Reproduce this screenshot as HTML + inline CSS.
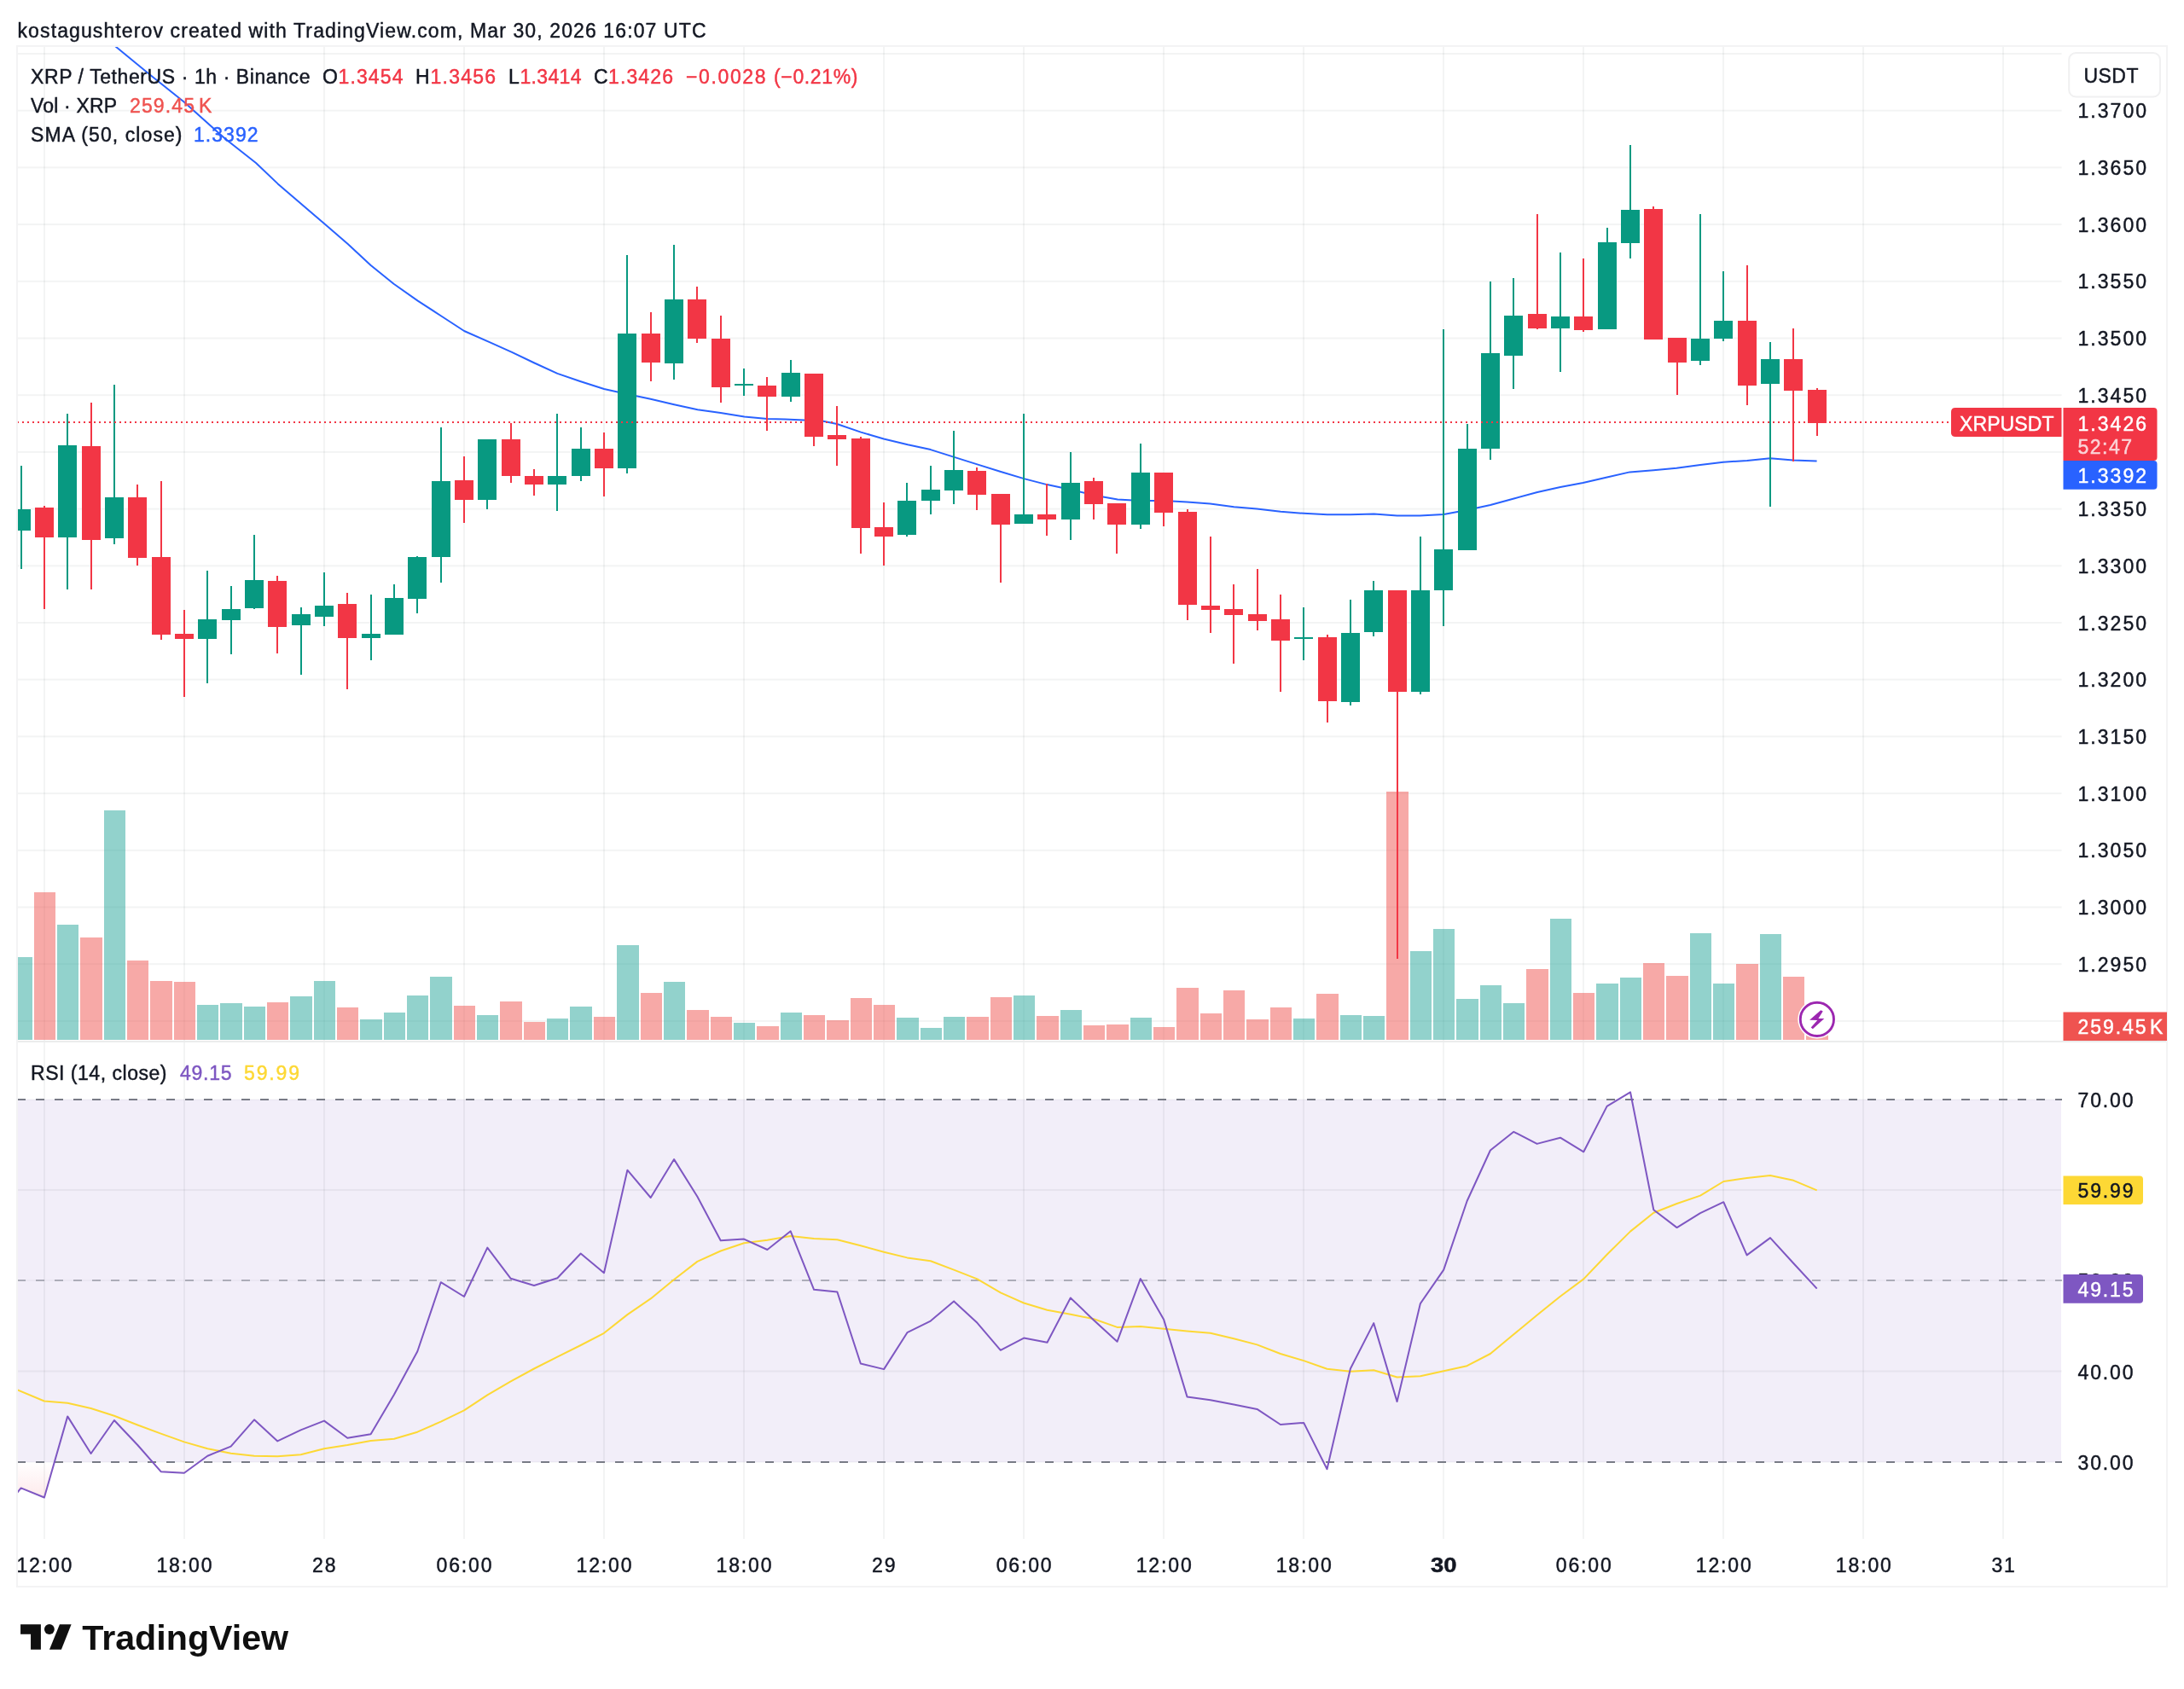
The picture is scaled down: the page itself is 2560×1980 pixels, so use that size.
<!DOCTYPE html>
<html><head><meta charset="utf-8"><title>XRP chart</title><style>html,body{margin:0;padding:0;background:#fff}body{width:2560px;height:1980px;position:relative;overflow:hidden;font-family:"Liberation Sans",sans-serif}</style></head><body><svg width="2560" height="1980" viewBox="0 0 2560 1980" style="position:absolute;left:0;top:0;will-change:transform;font-family:'Liberation Sans',sans-serif">
<defs><clipPath id="cm"><rect x="20" y="54" width="2397" height="1166"/></clipPath><clipPath id="cr"><rect x="20" y="1222" width="2397" height="582"/></clipPath><linearGradient id="os" x1="0" y1="1714" x2="0" y2="1800" gradientUnits="userSpaceOnUse"><stop offset="0" stop-color="#f23645" stop-opacity="0"/><stop offset="1" stop-color="#f23645" stop-opacity="0.22"/></linearGradient></defs>
<rect width="2560" height="1980" fill="#fff"/>
<rect x="20" y="1289" width="2396" height="425" fill="#f2eef9" shape-rendering="crispEdges"/>
<g fill="rgba(42,46,57,0.055)">
<rect x="20" y="62.00" width="2396.6" height="2"/>
<rect x="20" y="128.70" width="2396.6" height="2"/>
<rect x="20" y="195.40" width="2396.6" height="2"/>
<rect x="20" y="262.10" width="2396.6" height="2"/>
<rect x="20" y="328.80" width="2396.6" height="2"/>
<rect x="20" y="395.50" width="2396.6" height="2"/>
<rect x="20" y="462.20" width="2396.6" height="2"/>
<rect x="20" y="528.90" width="2396.6" height="2"/>
<rect x="20" y="595.60" width="2396.6" height="2"/>
<rect x="20" y="662.30" width="2396.6" height="2"/>
<rect x="20" y="729.00" width="2396.6" height="2"/>
<rect x="20" y="795.70" width="2396.6" height="2"/>
<rect x="20" y="862.40" width="2396.6" height="2"/>
<rect x="20" y="929.10" width="2396.6" height="2"/>
<rect x="20" y="995.80" width="2396.6" height="2"/>
<rect x="20" y="1062.50" width="2396.6" height="2"/>
<rect x="20" y="1129.20" width="2396.6" height="2"/>
<rect x="20" y="1195.90" width="2396.6" height="2"/>
<rect x="20" y="1394" width="2396.6" height="2"/>
<rect x="20" y="1606.5" width="2396.6" height="2"/>
<rect x="20" y="1288" width="2396.6" height="2" fill-opacity="0.6"/>
<rect x="20" y="1500" width="2396.6" height="2" fill-opacity="0.6"/>
<rect x="20" y="1713" width="2396.6" height="2" fill-opacity="0.6"/>
</g>
<g fill="rgba(42,46,57,0.055)" shape-rendering="crispEdges">
<rect x="51" y="54" width="2" height="1750"/>
<rect x="215" y="54" width="2" height="1750"/>
<rect x="379" y="54" width="2" height="1750"/>
<rect x="543" y="54" width="2" height="1750"/>
<rect x="707" y="54" width="2" height="1750"/>
<rect x="871" y="54" width="2" height="1750"/>
<rect x="1035" y="54" width="2" height="1750"/>
<rect x="1199" y="54" width="2" height="1750"/>
<rect x="1363" y="54" width="2" height="1750"/>
<rect x="1527" y="54" width="2" height="1750"/>
<rect x="1691" y="54" width="2" height="1750"/>
<rect x="1855" y="54" width="2" height="1750"/>
<rect x="2019" y="54" width="2" height="1750"/>
<rect x="2183" y="54" width="2" height="1750"/>
<rect x="2347" y="54" width="2" height="1750"/>
</g>
<g shape-rendering="crispEdges" clip-path="url(#cm)">
<rect x="12" y="1122" width="26" height="97" fill="rgba(38,166,154,0.5)"/>
<rect x="40" y="1046" width="25" height="173" fill="rgba(239,83,80,0.5)"/>
<rect x="67" y="1084" width="25" height="135" fill="rgba(38,166,154,0.5)"/>
<rect x="94" y="1099" width="26" height="120" fill="rgba(239,83,80,0.5)"/>
<rect x="122" y="950" width="25" height="269" fill="rgba(38,166,154,0.5)"/>
<rect x="149" y="1126" width="25" height="93" fill="rgba(239,83,80,0.5)"/>
<rect x="176" y="1150" width="26" height="69" fill="rgba(239,83,80,0.5)"/>
<rect x="204" y="1151" width="25" height="68" fill="rgba(239,83,80,0.5)"/>
<rect x="231" y="1178" width="25" height="41" fill="rgba(38,166,154,0.5)"/>
<rect x="258" y="1176" width="26" height="43" fill="rgba(38,166,154,0.5)"/>
<rect x="286" y="1180" width="25" height="39" fill="rgba(38,166,154,0.5)"/>
<rect x="313" y="1175" width="25" height="44" fill="rgba(239,83,80,0.5)"/>
<rect x="340" y="1168" width="26" height="51" fill="rgba(38,166,154,0.5)"/>
<rect x="368" y="1150" width="25" height="69" fill="rgba(38,166,154,0.5)"/>
<rect x="395" y="1181" width="25" height="38" fill="rgba(239,83,80,0.5)"/>
<rect x="422" y="1195" width="26" height="24" fill="rgba(38,166,154,0.5)"/>
<rect x="450" y="1187" width="25" height="32" fill="rgba(38,166,154,0.5)"/>
<rect x="477" y="1167" width="25" height="52" fill="rgba(38,166,154,0.5)"/>
<rect x="504" y="1145" width="26" height="74" fill="rgba(38,166,154,0.5)"/>
<rect x="532" y="1179" width="25" height="40" fill="rgba(239,83,80,0.5)"/>
<rect x="559" y="1190" width="25" height="29" fill="rgba(38,166,154,0.5)"/>
<rect x="586" y="1174" width="26" height="45" fill="rgba(239,83,80,0.5)"/>
<rect x="614" y="1198" width="25" height="21" fill="rgba(239,83,80,0.5)"/>
<rect x="641" y="1194" width="25" height="25" fill="rgba(38,166,154,0.5)"/>
<rect x="668" y="1180" width="26" height="39" fill="rgba(38,166,154,0.5)"/>
<rect x="696" y="1192" width="25" height="27" fill="rgba(239,83,80,0.5)"/>
<rect x="723" y="1108" width="26" height="111" fill="rgba(38,166,154,0.5)"/>
<rect x="751" y="1164" width="25" height="55" fill="rgba(239,83,80,0.5)"/>
<rect x="778" y="1151" width="25" height="68" fill="rgba(38,166,154,0.5)"/>
<rect x="805" y="1184" width="26" height="35" fill="rgba(239,83,80,0.5)"/>
<rect x="833" y="1192" width="25" height="27" fill="rgba(239,83,80,0.5)"/>
<rect x="860" y="1199" width="25" height="20" fill="rgba(38,166,154,0.5)"/>
<rect x="887" y="1203" width="26" height="16" fill="rgba(239,83,80,0.5)"/>
<rect x="915" y="1187" width="25" height="32" fill="rgba(38,166,154,0.5)"/>
<rect x="942" y="1190" width="25" height="29" fill="rgba(239,83,80,0.5)"/>
<rect x="969" y="1196" width="26" height="23" fill="rgba(239,83,80,0.5)"/>
<rect x="997" y="1170" width="25" height="49" fill="rgba(239,83,80,0.5)"/>
<rect x="1024" y="1178" width="25" height="41" fill="rgba(239,83,80,0.5)"/>
<rect x="1051" y="1193" width="26" height="26" fill="rgba(38,166,154,0.5)"/>
<rect x="1079" y="1205" width="25" height="14" fill="rgba(38,166,154,0.5)"/>
<rect x="1106" y="1192" width="25" height="27" fill="rgba(38,166,154,0.5)"/>
<rect x="1133" y="1192" width="26" height="27" fill="rgba(239,83,80,0.5)"/>
<rect x="1161" y="1169" width="25" height="50" fill="rgba(239,83,80,0.5)"/>
<rect x="1188" y="1167" width="25" height="52" fill="rgba(38,166,154,0.5)"/>
<rect x="1215" y="1191" width="26" height="28" fill="rgba(239,83,80,0.5)"/>
<rect x="1243" y="1184" width="25" height="35" fill="rgba(38,166,154,0.5)"/>
<rect x="1270" y="1202" width="25" height="17" fill="rgba(239,83,80,0.5)"/>
<rect x="1297" y="1201" width="26" height="18" fill="rgba(239,83,80,0.5)"/>
<rect x="1325" y="1193" width="25" height="26" fill="rgba(38,166,154,0.5)"/>
<rect x="1352" y="1204" width="25" height="15" fill="rgba(239,83,80,0.5)"/>
<rect x="1379" y="1158" width="26" height="61" fill="rgba(239,83,80,0.5)"/>
<rect x="1407" y="1188" width="25" height="31" fill="rgba(239,83,80,0.5)"/>
<rect x="1434" y="1161" width="25" height="58" fill="rgba(239,83,80,0.5)"/>
<rect x="1461" y="1195" width="26" height="24" fill="rgba(239,83,80,0.5)"/>
<rect x="1489" y="1181" width="25" height="38" fill="rgba(239,83,80,0.5)"/>
<rect x="1516" y="1194" width="25" height="25" fill="rgba(38,166,154,0.5)"/>
<rect x="1543" y="1165" width="26" height="54" fill="rgba(239,83,80,0.5)"/>
<rect x="1571" y="1190" width="25" height="29" fill="rgba(38,166,154,0.5)"/>
<rect x="1598" y="1191" width="25" height="28" fill="rgba(38,166,154,0.5)"/>
<rect x="1625" y="928" width="26" height="291" fill="rgba(239,83,80,0.5)"/>
<rect x="1653" y="1115" width="25" height="104" fill="rgba(38,166,154,0.5)"/>
<rect x="1680" y="1089" width="25" height="130" fill="rgba(38,166,154,0.5)"/>
<rect x="1707" y="1171" width="26" height="48" fill="rgba(38,166,154,0.5)"/>
<rect x="1735" y="1155" width="25" height="64" fill="rgba(38,166,154,0.5)"/>
<rect x="1762" y="1176" width="25" height="43" fill="rgba(38,166,154,0.5)"/>
<rect x="1789" y="1136" width="26" height="83" fill="rgba(239,83,80,0.5)"/>
<rect x="1817" y="1077" width="25" height="142" fill="rgba(38,166,154,0.5)"/>
<rect x="1844" y="1164" width="25" height="55" fill="rgba(239,83,80,0.5)"/>
<rect x="1871" y="1153" width="26" height="66" fill="rgba(38,166,154,0.5)"/>
<rect x="1899" y="1146" width="25" height="73" fill="rgba(38,166,154,0.5)"/>
<rect x="1926" y="1129" width="25" height="90" fill="rgba(239,83,80,0.5)"/>
<rect x="1953" y="1144" width="26" height="75" fill="rgba(239,83,80,0.5)"/>
<rect x="1981" y="1094" width="25" height="125" fill="rgba(38,166,154,0.5)"/>
<rect x="2008" y="1153" width="25" height="66" fill="rgba(38,166,154,0.5)"/>
<rect x="2035" y="1130" width="26" height="89" fill="rgba(239,83,80,0.5)"/>
<rect x="2063" y="1095" width="25" height="124" fill="rgba(38,166,154,0.5)"/>
<rect x="2090" y="1145" width="25" height="74" fill="rgba(239,83,80,0.5)"/>
<rect x="2117" y="1203" width="26" height="16" fill="rgba(239,83,80,0.5)"/>
</g>
<polyline points="134.6,53.8 176.9,88.5 215.4,119.2 264.1,162.8 300.0,191.0 325.6,215.4 380.8,262.8 407.7,285.9 434.6,311.0 461.5,332.8 489.7,352.6 518.0,371.0 544.1,388.0 574.4,401.3 600.0,412.8 626.4,425.5 653.4,437.9 680.0,447.0 708.1,456.0 735.1,461.9 762.6,467.8 790.2,474.3 817.7,480.2 844.7,484.1 872.5,488.5 899.4,490.9 920.0,491.6 942.5,492.5 965.0,493.8 981.0,497.0 1009.1,506.6 1035.9,514.5 1064.0,521.3 1090.8,527.1 1118.5,535.9 1145.5,544.4 1172.3,552.8 1200.2,561.1 1227.2,568.1 1255.1,574.1 1281.8,580.4 1310.0,585.4 1336.7,587.0 1364.6,587.0 1391.6,588.5 1418.5,590.5 1446.4,594.3 1473.2,596.5 1501.1,599.8 1528.1,601.8 1555.8,603.3 1582.9,603.3 1610.5,602.4 1637.6,604.4 1664.4,604.6 1692.3,603.0 1719.2,598.0 1747.0,592.0 1774.5,584.5 1802.0,577.0 1829.0,570.9 1855.6,565.9 1883.7,559.5 1910.4,553.4 1938.2,551.2 1965.2,548.7 1993.0,545.1 2020.0,541.7 2047.9,540.0 2074.9,537.3 2101.8,539.5 2129.6,540.6" fill="none" stroke="#2962ff" stroke-width="2" stroke-linejoin="round" clip-path="url(#cm)"/>
<g shape-rendering="crispEdges" clip-path="url(#cm)">
<rect x="24" y="546" width="2" height="121" fill="#089981"/>
<rect x="14" y="597" width="22" height="25" fill="#089981"/>
<rect x="51" y="593" width="2" height="121" fill="#f23645"/>
<rect x="41" y="595" width="22" height="35" fill="#f23645"/>
<rect x="78" y="485" width="2" height="206" fill="#089981"/>
<rect x="68" y="522" width="22" height="108" fill="#089981"/>
<rect x="106" y="472" width="2" height="219" fill="#f23645"/>
<rect x="96" y="523" width="22" height="110" fill="#f23645"/>
<rect x="133" y="451" width="2" height="187" fill="#089981"/>
<rect x="123" y="583" width="22" height="48" fill="#089981"/>
<rect x="160" y="568" width="2" height="95" fill="#f23645"/>
<rect x="150" y="583" width="22" height="71" fill="#f23645"/>
<rect x="188" y="564" width="2" height="186" fill="#f23645"/>
<rect x="178" y="653" width="22" height="91" fill="#f23645"/>
<rect x="215" y="715" width="2" height="102" fill="#f23645"/>
<rect x="205" y="743" width="22" height="6" fill="#f23645"/>
<rect x="242" y="669" width="2" height="132" fill="#089981"/>
<rect x="232" y="726" width="22" height="23" fill="#089981"/>
<rect x="270" y="687" width="2" height="80" fill="#089981"/>
<rect x="260" y="714" width="22" height="13" fill="#089981"/>
<rect x="297" y="627" width="2" height="87" fill="#089981"/>
<rect x="287" y="680" width="22" height="33" fill="#089981"/>
<rect x="324" y="675" width="2" height="91" fill="#f23645"/>
<rect x="314" y="681" width="22" height="54" fill="#f23645"/>
<rect x="352" y="712" width="2" height="79" fill="#089981"/>
<rect x="342" y="720" width="22" height="13" fill="#089981"/>
<rect x="379" y="671" width="2" height="63" fill="#089981"/>
<rect x="369" y="710" width="22" height="13" fill="#089981"/>
<rect x="406" y="695" width="2" height="113" fill="#f23645"/>
<rect x="396" y="708" width="22" height="40" fill="#f23645"/>
<rect x="434" y="697" width="2" height="77" fill="#089981"/>
<rect x="424" y="743" width="22" height="5" fill="#089981"/>
<rect x="461" y="685" width="2" height="59" fill="#089981"/>
<rect x="451" y="701" width="22" height="43" fill="#089981"/>
<rect x="488" y="652" width="2" height="67" fill="#089981"/>
<rect x="478" y="653" width="22" height="49" fill="#089981"/>
<rect x="516" y="501" width="2" height="182" fill="#089981"/>
<rect x="506" y="564" width="22" height="89" fill="#089981"/>
<rect x="543" y="535" width="2" height="78" fill="#f23645"/>
<rect x="533" y="563" width="22" height="23" fill="#f23645"/>
<rect x="570" y="515" width="2" height="82" fill="#089981"/>
<rect x="560" y="515" width="22" height="71" fill="#089981"/>
<rect x="598" y="496" width="2" height="70" fill="#f23645"/>
<rect x="588" y="515" width="22" height="43" fill="#f23645"/>
<rect x="625" y="550" width="2" height="31" fill="#f23645"/>
<rect x="615" y="558" width="22" height="10" fill="#f23645"/>
<rect x="652" y="485" width="2" height="114" fill="#089981"/>
<rect x="642" y="558" width="22" height="10" fill="#089981"/>
<rect x="680" y="501" width="2" height="63" fill="#089981"/>
<rect x="670" y="526" width="22" height="32" fill="#089981"/>
<rect x="707" y="507" width="2" height="75" fill="#f23645"/>
<rect x="697" y="526" width="22" height="23" fill="#f23645"/>
<rect x="734" y="299" width="2" height="256" fill="#089981"/>
<rect x="724" y="391" width="22" height="158" fill="#089981"/>
<rect x="762" y="366" width="2" height="81" fill="#f23645"/>
<rect x="752" y="391" width="22" height="34" fill="#f23645"/>
<rect x="789" y="287" width="2" height="158" fill="#089981"/>
<rect x="779" y="351" width="22" height="75" fill="#089981"/>
<rect x="816" y="336" width="2" height="66" fill="#f23645"/>
<rect x="806" y="351" width="22" height="46" fill="#f23645"/>
<rect x="844" y="370" width="2" height="102" fill="#f23645"/>
<rect x="834" y="397" width="22" height="57" fill="#f23645"/>
<rect x="871" y="432" width="2" height="32" fill="#089981"/>
<rect x="861" y="450" width="22" height="2" fill="#089981"/>
<rect x="898" y="442" width="2" height="63" fill="#f23645"/>
<rect x="888" y="452" width="22" height="13" fill="#f23645"/>
<rect x="926" y="422" width="2" height="49" fill="#089981"/>
<rect x="916" y="437" width="22" height="28" fill="#089981"/>
<rect x="953" y="438" width="2" height="85" fill="#f23645"/>
<rect x="943" y="438" width="22" height="74" fill="#f23645"/>
<rect x="980" y="476" width="2" height="70" fill="#f23645"/>
<rect x="970" y="510" width="22" height="5" fill="#f23645"/>
<rect x="1008" y="512" width="2" height="137" fill="#f23645"/>
<rect x="998" y="514" width="22" height="105" fill="#f23645"/>
<rect x="1035" y="589" width="2" height="74" fill="#f23645"/>
<rect x="1025" y="618" width="22" height="11" fill="#f23645"/>
<rect x="1062" y="566" width="2" height="63" fill="#089981"/>
<rect x="1052" y="587" width="22" height="40" fill="#089981"/>
<rect x="1090" y="546" width="2" height="57" fill="#089981"/>
<rect x="1080" y="574" width="22" height="13" fill="#089981"/>
<rect x="1117" y="505" width="2" height="86" fill="#089981"/>
<rect x="1107" y="551" width="22" height="24" fill="#089981"/>
<rect x="1144" y="548" width="2" height="50" fill="#f23645"/>
<rect x="1134" y="552" width="22" height="28" fill="#f23645"/>
<rect x="1172" y="579" width="2" height="104" fill="#f23645"/>
<rect x="1162" y="579" width="22" height="36" fill="#f23645"/>
<rect x="1199" y="485" width="2" height="129" fill="#089981"/>
<rect x="1189" y="603" width="22" height="11" fill="#089981"/>
<rect x="1226" y="567" width="2" height="61" fill="#f23645"/>
<rect x="1216" y="603" width="22" height="6" fill="#f23645"/>
<rect x="1254" y="530" width="2" height="103" fill="#089981"/>
<rect x="1244" y="566" width="22" height="43" fill="#089981"/>
<rect x="1281" y="560" width="2" height="49" fill="#f23645"/>
<rect x="1271" y="564" width="22" height="27" fill="#f23645"/>
<rect x="1308" y="590" width="2" height="59" fill="#f23645"/>
<rect x="1298" y="590" width="22" height="25" fill="#f23645"/>
<rect x="1336" y="520" width="2" height="100" fill="#089981"/>
<rect x="1326" y="554" width="22" height="61" fill="#089981"/>
<rect x="1363" y="554" width="2" height="63" fill="#f23645"/>
<rect x="1353" y="554" width="22" height="47" fill="#f23645"/>
<rect x="1391" y="597" width="2" height="130" fill="#f23645"/>
<rect x="1381" y="600" width="22" height="109" fill="#f23645"/>
<rect x="1418" y="629" width="2" height="113" fill="#f23645"/>
<rect x="1408" y="710" width="22" height="5" fill="#f23645"/>
<rect x="1445" y="685" width="2" height="93" fill="#f23645"/>
<rect x="1435" y="714" width="22" height="7" fill="#f23645"/>
<rect x="1473" y="667" width="2" height="72" fill="#f23645"/>
<rect x="1463" y="720" width="22" height="8" fill="#f23645"/>
<rect x="1500" y="697" width="2" height="114" fill="#f23645"/>
<rect x="1490" y="726" width="22" height="25" fill="#f23645"/>
<rect x="1527" y="712" width="2" height="62" fill="#089981"/>
<rect x="1517" y="747" width="22" height="2" fill="#089981"/>
<rect x="1555" y="744" width="2" height="103" fill="#f23645"/>
<rect x="1545" y="747" width="22" height="75" fill="#f23645"/>
<rect x="1582" y="703" width="2" height="124" fill="#089981"/>
<rect x="1572" y="742" width="22" height="81" fill="#089981"/>
<rect x="1609" y="681" width="2" height="65" fill="#089981"/>
<rect x="1599" y="692" width="22" height="49" fill="#089981"/>
<rect x="1637" y="692" width="2" height="432" fill="#f23645"/>
<rect x="1627" y="692" width="22" height="119" fill="#f23645"/>
<rect x="1664" y="629" width="2" height="185" fill="#089981"/>
<rect x="1654" y="692" width="22" height="119" fill="#089981"/>
<rect x="1691" y="386" width="2" height="348" fill="#089981"/>
<rect x="1681" y="644" width="22" height="48" fill="#089981"/>
<rect x="1719" y="497" width="2" height="148" fill="#089981"/>
<rect x="1709" y="526" width="22" height="119" fill="#089981"/>
<rect x="1746" y="330" width="2" height="209" fill="#089981"/>
<rect x="1736" y="414" width="22" height="112" fill="#089981"/>
<rect x="1773" y="326" width="2" height="130" fill="#089981"/>
<rect x="1763" y="370" width="22" height="47" fill="#089981"/>
<rect x="1801" y="251" width="2" height="135" fill="#f23645"/>
<rect x="1791" y="368" width="22" height="17" fill="#f23645"/>
<rect x="1828" y="296" width="2" height="140" fill="#089981"/>
<rect x="1818" y="371" width="22" height="14" fill="#089981"/>
<rect x="1855" y="303" width="2" height="86" fill="#f23645"/>
<rect x="1845" y="371" width="22" height="16" fill="#f23645"/>
<rect x="1883" y="267" width="2" height="119" fill="#089981"/>
<rect x="1873" y="284" width="22" height="102" fill="#089981"/>
<rect x="1910" y="170" width="2" height="133" fill="#089981"/>
<rect x="1900" y="246" width="22" height="39" fill="#089981"/>
<rect x="1937" y="242" width="2" height="156" fill="#f23645"/>
<rect x="1927" y="245" width="22" height="153" fill="#f23645"/>
<rect x="1965" y="396" width="2" height="67" fill="#f23645"/>
<rect x="1955" y="396" width="22" height="29" fill="#f23645"/>
<rect x="1992" y="251" width="2" height="177" fill="#089981"/>
<rect x="1982" y="397" width="22" height="26" fill="#089981"/>
<rect x="2019" y="318" width="2" height="82" fill="#089981"/>
<rect x="2009" y="376" width="22" height="21" fill="#089981"/>
<rect x="2047" y="311" width="2" height="164" fill="#f23645"/>
<rect x="2037" y="376" width="22" height="76" fill="#f23645"/>
<rect x="2074" y="401" width="2" height="193" fill="#089981"/>
<rect x="2064" y="421" width="22" height="29" fill="#089981"/>
<rect x="2101" y="385" width="2" height="156" fill="#f23645"/>
<rect x="2091" y="421" width="22" height="37" fill="#f23645"/>
<rect x="2129" y="455" width="2" height="56" fill="#f23645"/>
<rect x="2119" y="457" width="22" height="39" fill="#f23645"/>
</g>
<g fill="#f23645" shape-rendering="crispEdges">
<rect x="20" y="494" width="2" height="2"/><rect x="26" y="494" width="2" height="2"/><rect x="32" y="494" width="2" height="2"/><rect x="38" y="494" width="2" height="2"/><rect x="44" y="494" width="2" height="2"/><rect x="50" y="494" width="2" height="2"/><rect x="56" y="494" width="2" height="2"/><rect x="62" y="494" width="2" height="2"/><rect x="68" y="494" width="2" height="2"/><rect x="74" y="494" width="2" height="2"/><rect x="80" y="494" width="2" height="2"/><rect x="86" y="494" width="2" height="2"/><rect x="92" y="494" width="2" height="2"/><rect x="98" y="494" width="2" height="2"/><rect x="104" y="494" width="2" height="2"/><rect x="110" y="494" width="2" height="2"/><rect x="116" y="494" width="2" height="2"/><rect x="122" y="494" width="2" height="2"/><rect x="128" y="494" width="2" height="2"/><rect x="134" y="494" width="2" height="2"/><rect x="140" y="494" width="2" height="2"/><rect x="146" y="494" width="2" height="2"/><rect x="152" y="494" width="2" height="2"/><rect x="158" y="494" width="2" height="2"/><rect x="164" y="494" width="2" height="2"/><rect x="170" y="494" width="2" height="2"/><rect x="176" y="494" width="2" height="2"/><rect x="182" y="494" width="2" height="2"/><rect x="188" y="494" width="2" height="2"/><rect x="194" y="494" width="2" height="2"/><rect x="200" y="494" width="2" height="2"/><rect x="206" y="494" width="2" height="2"/><rect x="212" y="494" width="2" height="2"/><rect x="218" y="494" width="2" height="2"/><rect x="224" y="494" width="2" height="2"/><rect x="230" y="494" width="2" height="2"/><rect x="236" y="494" width="2" height="2"/><rect x="242" y="494" width="2" height="2"/><rect x="248" y="494" width="2" height="2"/><rect x="254" y="494" width="2" height="2"/><rect x="260" y="494" width="2" height="2"/><rect x="266" y="494" width="2" height="2"/><rect x="272" y="494" width="2" height="2"/><rect x="278" y="494" width="2" height="2"/><rect x="284" y="494" width="2" height="2"/><rect x="290" y="494" width="2" height="2"/><rect x="296" y="494" width="2" height="2"/><rect x="302" y="494" width="2" height="2"/><rect x="308" y="494" width="2" height="2"/><rect x="314" y="494" width="2" height="2"/><rect x="320" y="494" width="2" height="2"/><rect x="326" y="494" width="2" height="2"/><rect x="332" y="494" width="2" height="2"/><rect x="338" y="494" width="2" height="2"/><rect x="344" y="494" width="2" height="2"/><rect x="350" y="494" width="2" height="2"/><rect x="356" y="494" width="2" height="2"/><rect x="362" y="494" width="2" height="2"/><rect x="368" y="494" width="2" height="2"/><rect x="374" y="494" width="2" height="2"/><rect x="380" y="494" width="2" height="2"/><rect x="386" y="494" width="2" height="2"/><rect x="392" y="494" width="2" height="2"/><rect x="398" y="494" width="2" height="2"/><rect x="404" y="494" width="2" height="2"/><rect x="410" y="494" width="2" height="2"/><rect x="416" y="494" width="2" height="2"/><rect x="422" y="494" width="2" height="2"/><rect x="428" y="494" width="2" height="2"/><rect x="434" y="494" width="2" height="2"/><rect x="440" y="494" width="2" height="2"/><rect x="446" y="494" width="2" height="2"/><rect x="452" y="494" width="2" height="2"/><rect x="458" y="494" width="2" height="2"/><rect x="464" y="494" width="2" height="2"/><rect x="470" y="494" width="2" height="2"/><rect x="476" y="494" width="2" height="2"/><rect x="482" y="494" width="2" height="2"/><rect x="488" y="494" width="2" height="2"/><rect x="494" y="494" width="2" height="2"/><rect x="500" y="494" width="2" height="2"/><rect x="506" y="494" width="2" height="2"/><rect x="512" y="494" width="2" height="2"/><rect x="518" y="494" width="2" height="2"/><rect x="524" y="494" width="2" height="2"/><rect x="530" y="494" width="2" height="2"/><rect x="536" y="494" width="2" height="2"/><rect x="542" y="494" width="2" height="2"/><rect x="548" y="494" width="2" height="2"/><rect x="554" y="494" width="2" height="2"/><rect x="560" y="494" width="2" height="2"/><rect x="566" y="494" width="2" height="2"/><rect x="572" y="494" width="2" height="2"/><rect x="578" y="494" width="2" height="2"/><rect x="584" y="494" width="2" height="2"/><rect x="590" y="494" width="2" height="2"/><rect x="596" y="494" width="2" height="2"/><rect x="602" y="494" width="2" height="2"/><rect x="608" y="494" width="2" height="2"/><rect x="614" y="494" width="2" height="2"/><rect x="620" y="494" width="2" height="2"/><rect x="626" y="494" width="2" height="2"/><rect x="632" y="494" width="2" height="2"/><rect x="638" y="494" width="2" height="2"/><rect x="644" y="494" width="2" height="2"/><rect x="650" y="494" width="2" height="2"/><rect x="656" y="494" width="2" height="2"/><rect x="662" y="494" width="2" height="2"/><rect x="668" y="494" width="2" height="2"/><rect x="674" y="494" width="2" height="2"/><rect x="680" y="494" width="2" height="2"/><rect x="686" y="494" width="2" height="2"/><rect x="692" y="494" width="2" height="2"/><rect x="698" y="494" width="2" height="2"/><rect x="704" y="494" width="2" height="2"/><rect x="710" y="494" width="2" height="2"/><rect x="716" y="494" width="2" height="2"/><rect x="722" y="494" width="2" height="2"/><rect x="728" y="494" width="2" height="2"/><rect x="734" y="494" width="2" height="2"/><rect x="740" y="494" width="2" height="2"/><rect x="746" y="494" width="2" height="2"/><rect x="752" y="494" width="2" height="2"/><rect x="758" y="494" width="2" height="2"/><rect x="764" y="494" width="2" height="2"/><rect x="770" y="494" width="2" height="2"/><rect x="776" y="494" width="2" height="2"/><rect x="782" y="494" width="2" height="2"/><rect x="788" y="494" width="2" height="2"/><rect x="794" y="494" width="2" height="2"/><rect x="800" y="494" width="2" height="2"/><rect x="806" y="494" width="2" height="2"/><rect x="812" y="494" width="2" height="2"/><rect x="818" y="494" width="2" height="2"/><rect x="824" y="494" width="2" height="2"/><rect x="830" y="494" width="2" height="2"/><rect x="836" y="494" width="2" height="2"/><rect x="842" y="494" width="2" height="2"/><rect x="848" y="494" width="2" height="2"/><rect x="854" y="494" width="2" height="2"/><rect x="860" y="494" width="2" height="2"/><rect x="866" y="494" width="2" height="2"/><rect x="872" y="494" width="2" height="2"/><rect x="878" y="494" width="2" height="2"/><rect x="884" y="494" width="2" height="2"/><rect x="890" y="494" width="2" height="2"/><rect x="896" y="494" width="2" height="2"/><rect x="902" y="494" width="2" height="2"/><rect x="908" y="494" width="2" height="2"/><rect x="914" y="494" width="2" height="2"/><rect x="920" y="494" width="2" height="2"/><rect x="926" y="494" width="2" height="2"/><rect x="932" y="494" width="2" height="2"/><rect x="938" y="494" width="2" height="2"/><rect x="944" y="494" width="2" height="2"/><rect x="950" y="494" width="2" height="2"/><rect x="956" y="494" width="2" height="2"/><rect x="962" y="494" width="2" height="2"/><rect x="968" y="494" width="2" height="2"/><rect x="974" y="494" width="2" height="2"/><rect x="980" y="494" width="2" height="2"/><rect x="986" y="494" width="2" height="2"/><rect x="992" y="494" width="2" height="2"/><rect x="998" y="494" width="2" height="2"/><rect x="1004" y="494" width="2" height="2"/><rect x="1010" y="494" width="2" height="2"/><rect x="1016" y="494" width="2" height="2"/><rect x="1022" y="494" width="2" height="2"/><rect x="1028" y="494" width="2" height="2"/><rect x="1034" y="494" width="2" height="2"/><rect x="1040" y="494" width="2" height="2"/><rect x="1046" y="494" width="2" height="2"/><rect x="1052" y="494" width="2" height="2"/><rect x="1058" y="494" width="2" height="2"/><rect x="1064" y="494" width="2" height="2"/><rect x="1070" y="494" width="2" height="2"/><rect x="1076" y="494" width="2" height="2"/><rect x="1082" y="494" width="2" height="2"/><rect x="1088" y="494" width="2" height="2"/><rect x="1094" y="494" width="2" height="2"/><rect x="1100" y="494" width="2" height="2"/><rect x="1106" y="494" width="2" height="2"/><rect x="1112" y="494" width="2" height="2"/><rect x="1118" y="494" width="2" height="2"/><rect x="1124" y="494" width="2" height="2"/><rect x="1130" y="494" width="2" height="2"/><rect x="1136" y="494" width="2" height="2"/><rect x="1142" y="494" width="2" height="2"/><rect x="1148" y="494" width="2" height="2"/><rect x="1154" y="494" width="2" height="2"/><rect x="1160" y="494" width="2" height="2"/><rect x="1166" y="494" width="2" height="2"/><rect x="1172" y="494" width="2" height="2"/><rect x="1178" y="494" width="2" height="2"/><rect x="1184" y="494" width="2" height="2"/><rect x="1190" y="494" width="2" height="2"/><rect x="1196" y="494" width="2" height="2"/><rect x="1202" y="494" width="2" height="2"/><rect x="1208" y="494" width="2" height="2"/><rect x="1214" y="494" width="2" height="2"/><rect x="1220" y="494" width="2" height="2"/><rect x="1226" y="494" width="2" height="2"/><rect x="1232" y="494" width="2" height="2"/><rect x="1238" y="494" width="2" height="2"/><rect x="1244" y="494" width="2" height="2"/><rect x="1250" y="494" width="2" height="2"/><rect x="1256" y="494" width="2" height="2"/><rect x="1262" y="494" width="2" height="2"/><rect x="1268" y="494" width="2" height="2"/><rect x="1274" y="494" width="2" height="2"/><rect x="1280" y="494" width="2" height="2"/><rect x="1286" y="494" width="2" height="2"/><rect x="1292" y="494" width="2" height="2"/><rect x="1298" y="494" width="2" height="2"/><rect x="1304" y="494" width="2" height="2"/><rect x="1310" y="494" width="2" height="2"/><rect x="1316" y="494" width="2" height="2"/><rect x="1322" y="494" width="2" height="2"/><rect x="1328" y="494" width="2" height="2"/><rect x="1334" y="494" width="2" height="2"/><rect x="1340" y="494" width="2" height="2"/><rect x="1346" y="494" width="2" height="2"/><rect x="1352" y="494" width="2" height="2"/><rect x="1358" y="494" width="2" height="2"/><rect x="1364" y="494" width="2" height="2"/><rect x="1370" y="494" width="2" height="2"/><rect x="1376" y="494" width="2" height="2"/><rect x="1382" y="494" width="2" height="2"/><rect x="1388" y="494" width="2" height="2"/><rect x="1394" y="494" width="2" height="2"/><rect x="1400" y="494" width="2" height="2"/><rect x="1406" y="494" width="2" height="2"/><rect x="1412" y="494" width="2" height="2"/><rect x="1418" y="494" width="2" height="2"/><rect x="1424" y="494" width="2" height="2"/><rect x="1430" y="494" width="2" height="2"/><rect x="1436" y="494" width="2" height="2"/><rect x="1442" y="494" width="2" height="2"/><rect x="1448" y="494" width="2" height="2"/><rect x="1454" y="494" width="2" height="2"/><rect x="1460" y="494" width="2" height="2"/><rect x="1466" y="494" width="2" height="2"/><rect x="1472" y="494" width="2" height="2"/><rect x="1478" y="494" width="2" height="2"/><rect x="1484" y="494" width="2" height="2"/><rect x="1490" y="494" width="2" height="2"/><rect x="1496" y="494" width="2" height="2"/><rect x="1502" y="494" width="2" height="2"/><rect x="1508" y="494" width="2" height="2"/><rect x="1514" y="494" width="2" height="2"/><rect x="1520" y="494" width="2" height="2"/><rect x="1526" y="494" width="2" height="2"/><rect x="1532" y="494" width="2" height="2"/><rect x="1538" y="494" width="2" height="2"/><rect x="1544" y="494" width="2" height="2"/><rect x="1550" y="494" width="2" height="2"/><rect x="1556" y="494" width="2" height="2"/><rect x="1562" y="494" width="2" height="2"/><rect x="1568" y="494" width="2" height="2"/><rect x="1574" y="494" width="2" height="2"/><rect x="1580" y="494" width="2" height="2"/><rect x="1586" y="494" width="2" height="2"/><rect x="1592" y="494" width="2" height="2"/><rect x="1598" y="494" width="2" height="2"/><rect x="1604" y="494" width="2" height="2"/><rect x="1610" y="494" width="2" height="2"/><rect x="1616" y="494" width="2" height="2"/><rect x="1622" y="494" width="2" height="2"/><rect x="1628" y="494" width="2" height="2"/><rect x="1634" y="494" width="2" height="2"/><rect x="1640" y="494" width="2" height="2"/><rect x="1646" y="494" width="2" height="2"/><rect x="1652" y="494" width="2" height="2"/><rect x="1658" y="494" width="2" height="2"/><rect x="1664" y="494" width="2" height="2"/><rect x="1670" y="494" width="2" height="2"/><rect x="1676" y="494" width="2" height="2"/><rect x="1682" y="494" width="2" height="2"/><rect x="1688" y="494" width="2" height="2"/><rect x="1694" y="494" width="2" height="2"/><rect x="1700" y="494" width="2" height="2"/><rect x="1706" y="494" width="2" height="2"/><rect x="1712" y="494" width="2" height="2"/><rect x="1718" y="494" width="2" height="2"/><rect x="1724" y="494" width="2" height="2"/><rect x="1730" y="494" width="2" height="2"/><rect x="1736" y="494" width="2" height="2"/><rect x="1742" y="494" width="2" height="2"/><rect x="1748" y="494" width="2" height="2"/><rect x="1754" y="494" width="2" height="2"/><rect x="1760" y="494" width="2" height="2"/><rect x="1766" y="494" width="2" height="2"/><rect x="1772" y="494" width="2" height="2"/><rect x="1778" y="494" width="2" height="2"/><rect x="1784" y="494" width="2" height="2"/><rect x="1790" y="494" width="2" height="2"/><rect x="1796" y="494" width="2" height="2"/><rect x="1802" y="494" width="2" height="2"/><rect x="1808" y="494" width="2" height="2"/><rect x="1814" y="494" width="2" height="2"/><rect x="1820" y="494" width="2" height="2"/><rect x="1826" y="494" width="2" height="2"/><rect x="1832" y="494" width="2" height="2"/><rect x="1838" y="494" width="2" height="2"/><rect x="1844" y="494" width="2" height="2"/><rect x="1850" y="494" width="2" height="2"/><rect x="1856" y="494" width="2" height="2"/><rect x="1862" y="494" width="2" height="2"/><rect x="1868" y="494" width="2" height="2"/><rect x="1874" y="494" width="2" height="2"/><rect x="1880" y="494" width="2" height="2"/><rect x="1886" y="494" width="2" height="2"/><rect x="1892" y="494" width="2" height="2"/><rect x="1898" y="494" width="2" height="2"/><rect x="1904" y="494" width="2" height="2"/><rect x="1910" y="494" width="2" height="2"/><rect x="1916" y="494" width="2" height="2"/><rect x="1922" y="494" width="2" height="2"/><rect x="1928" y="494" width="2" height="2"/><rect x="1934" y="494" width="2" height="2"/><rect x="1940" y="494" width="2" height="2"/><rect x="1946" y="494" width="2" height="2"/><rect x="1952" y="494" width="2" height="2"/><rect x="1958" y="494" width="2" height="2"/><rect x="1964" y="494" width="2" height="2"/><rect x="1970" y="494" width="2" height="2"/><rect x="1976" y="494" width="2" height="2"/><rect x="1982" y="494" width="2" height="2"/><rect x="1988" y="494" width="2" height="2"/><rect x="1994" y="494" width="2" height="2"/><rect x="2000" y="494" width="2" height="2"/><rect x="2006" y="494" width="2" height="2"/><rect x="2012" y="494" width="2" height="2"/><rect x="2018" y="494" width="2" height="2"/><rect x="2024" y="494" width="2" height="2"/><rect x="2030" y="494" width="2" height="2"/><rect x="2036" y="494" width="2" height="2"/><rect x="2042" y="494" width="2" height="2"/><rect x="2048" y="494" width="2" height="2"/><rect x="2054" y="494" width="2" height="2"/><rect x="2060" y="494" width="2" height="2"/><rect x="2066" y="494" width="2" height="2"/><rect x="2072" y="494" width="2" height="2"/><rect x="2078" y="494" width="2" height="2"/><rect x="2084" y="494" width="2" height="2"/><rect x="2090" y="494" width="2" height="2"/><rect x="2096" y="494" width="2" height="2"/><rect x="2102" y="494" width="2" height="2"/><rect x="2108" y="494" width="2" height="2"/><rect x="2114" y="494" width="2" height="2"/><rect x="2120" y="494" width="2" height="2"/><rect x="2126" y="494" width="2" height="2"/><rect x="2132" y="494" width="2" height="2"/><rect x="2138" y="494" width="2" height="2"/><rect x="2144" y="494" width="2" height="2"/><rect x="2150" y="494" width="2" height="2"/><rect x="2156" y="494" width="2" height="2"/><rect x="2162" y="494" width="2" height="2"/><rect x="2168" y="494" width="2" height="2"/><rect x="2174" y="494" width="2" height="2"/><rect x="2180" y="494" width="2" height="2"/><rect x="2186" y="494" width="2" height="2"/><rect x="2192" y="494" width="2" height="2"/><rect x="2198" y="494" width="2" height="2"/><rect x="2204" y="494" width="2" height="2"/><rect x="2210" y="494" width="2" height="2"/><rect x="2216" y="494" width="2" height="2"/><rect x="2222" y="494" width="2" height="2"/><rect x="2228" y="494" width="2" height="2"/><rect x="2234" y="494" width="2" height="2"/><rect x="2240" y="494" width="2" height="2"/><rect x="2246" y="494" width="2" height="2"/><rect x="2252" y="494" width="2" height="2"/><rect x="2258" y="494" width="2" height="2"/><rect x="2264" y="494" width="2" height="2"/><rect x="2270" y="494" width="2" height="2"/><rect x="2276" y="494" width="2" height="2"/><rect x="2282" y="494" width="2" height="2"/>
</g>
<circle cx="2129.9" cy="1194.9" r="22.6" fill="#fff"/>
<circle cx="2129.9" cy="1194.9" r="19.6" fill="#fff" stroke="#9c27b0" stroke-width="2.9"/>
<polygon points="2134.25,1184.15 2136.74,1185.57 2131.40,1194.10 2138.34,1194.10 2124.84,1206.18 2122.71,1204.40 2130.30,1195.88 2121.11,1195.70" fill="#9c27b0"/>
<rect x="20" y="1220" width="2520" height="2" fill="#ebecec" shape-rendering="crispEdges"/>
<polygon points="20.0,1714.0 20.0,1750.0 24.6,1744.4 51.9,1755.5 63.8,1714.0" fill="url(#os)"/>
<polygon points="178.8,1714.0 188.6,1725.2 215.9,1726.8 233.3,1714.0" fill="url(#os)"/>
<polygon points="1551.4,1714.0 1555.5,1722.2 1557.5,1714.0" fill="url(#os)"/>
<line x1="20" y1="1289" x2="2416.6" y2="1289" stroke="#787b86" stroke-opacity="1" stroke-width="2" stroke-dasharray="10 11.913" shape-rendering="crispEdges"/>
<line x1="20" y1="1501" x2="2416.6" y2="1501" stroke="#787b86" stroke-opacity="0.55" stroke-width="2" stroke-dasharray="10 11.913" shape-rendering="crispEdges"/>
<line x1="20" y1="1714" x2="2416.6" y2="1714" stroke="#787b86" stroke-opacity="1" stroke-width="2" stroke-dasharray="10 11.913" shape-rendering="crispEdges"/>
<polyline points="20.0,1629.2 51.9,1642.5 79.2,1644.8 106.6,1651.0 133.9,1659.8 161.3,1670.5 188.6,1680.6 215.9,1690.4 243.3,1698.2 270.6,1703.7 298.0,1706.7 325.3,1707.3 352.6,1705.3 380.0,1698.2 407.3,1694.0 434.6,1689.1 462.0,1686.8 489.3,1678.7 516.7,1666.6 544.0,1653.4 571.3,1635.3 598.7,1619.3 626.0,1604.5 653.4,1590.6 680.7,1577.0 708.0,1562.8 735.4,1541.1 762.7,1522.4 790.1,1500.0 817.4,1478.9 844.7,1466.5 872.1,1457.2 899.4,1453.8 926.7,1449.0 954.1,1452.0 981.4,1453.2 1008.8,1460.2 1036.1,1467.7 1063.4,1474.4 1090.8,1478.3 1118.1,1488.6 1145.5,1499.4 1172.8,1515.4 1200.1,1527.5 1227.5,1535.7 1254.8,1540.8 1282.2,1546.2 1309.5,1555.9 1336.8,1555.0 1364.2,1557.7 1391.5,1560.4 1418.8,1562.8 1446.2,1569.2 1473.5,1576.4 1500.9,1587.0 1528.2,1595.1 1555.5,1604.8 1582.9,1607.8 1610.2,1606.3 1637.6,1614.5 1664.9,1613.2 1692.2,1607.2 1719.6,1601.2 1746.9,1587.0 1774.3,1564.3 1801.6,1541.7 1828.9,1519.7 1856.3,1499.4 1883.6,1470.8 1911.0,1443.6 1938.3,1421.8 1965.6,1411.0 1993.0,1401.6 2020.3,1385.0 2047.6,1381.1 2075.0,1378.1 2102.3,1383.8 2129.7,1395.3" fill="none" stroke="#fdd835" stroke-width="2" stroke-linejoin="round" clip-path="url(#cr)"/>
<polyline points="20.0,1750.0 24.6,1744.4 51.9,1755.5 79.2,1660.4 106.6,1704.0 133.9,1665.0 161.3,1694.0 188.6,1725.2 215.9,1726.8 243.3,1706.7 270.6,1695.6 298.0,1664.3 325.3,1689.4 352.6,1676.4 380.0,1665.6 407.3,1685.8 434.6,1681.3 462.0,1634.7 489.3,1584.2 516.7,1503.2 544.0,1520.0 571.3,1462.6 598.7,1498.8 626.0,1507.0 653.4,1498.2 680.7,1469.5 708.0,1492.2 735.4,1371.7 762.7,1404.0 790.1,1359.1 817.4,1402.8 844.7,1454.2 872.1,1452.6 899.4,1465.0 926.7,1443.3 954.1,1511.8 981.4,1514.5 1008.8,1598.5 1036.1,1605.1 1063.4,1562.2 1090.8,1548.6 1118.1,1525.4 1145.5,1550.8 1172.8,1582.8 1200.1,1568.6 1227.5,1573.7 1254.8,1521.5 1282.2,1547.7 1309.5,1572.8 1336.8,1499.1 1364.2,1547.1 1391.5,1637.4 1418.8,1641.3 1446.2,1646.5 1473.5,1651.9 1500.9,1670.0 1528.2,1667.9 1555.5,1722.2 1582.9,1604.5 1610.2,1551.1 1637.6,1643.1 1664.9,1528.1 1692.2,1488.6 1719.6,1408.0 1746.9,1348.5 1774.3,1326.8 1801.6,1340.9 1828.9,1333.7 1856.3,1350.3 1883.6,1296.9 1911.0,1280.3 1938.3,1418.2 1965.6,1439.1 1993.0,1422.2 2020.3,1409.2 2047.6,1471.4 2075.0,1451.1 2102.3,1481.0 2129.7,1510.6" fill="none" stroke="#7e57c2" stroke-width="2" stroke-linejoin="round" clip-path="url(#cr)"/>
<rect x="20" y="54" width="2520" height="1806" fill="none" stroke="#f3f3f4" stroke-width="2" shape-rendering="crispEdges"/>
<g>
<text x="20.5" y="44" font-size="23" fill="#131722" stroke="#131722" stroke-width="0.45" textLength="807" lengthAdjust="spacing">kostagushterov created with TradingView.com, Mar 30, 2026 16:07 UTC</text>
<text x="36" y="97.8" font-size="23" fill="#131722" stroke="#131722" stroke-width="0.45" textLength="327.5" lengthAdjust="spacing">XRP / TetherUS · 1h · Binance</text>
<text x="378" y="97.8" font-size="23" fill="#131722" stroke="#131722" stroke-width="0.45" textLength="17.5" lengthAdjust="spacing">O</text>
<text x="396.5" y="97.8" font-size="23" fill="#f23645" stroke="#f23645" stroke-width="0.45" textLength="76" lengthAdjust="spacing">1.3454</text>
<text x="487" y="97.8" font-size="23" fill="#131722" stroke="#131722" stroke-width="0.45" textLength="17.5" lengthAdjust="spacing">H</text>
<text x="504.5" y="97.8" font-size="23" fill="#f23645" stroke="#f23645" stroke-width="0.45" textLength="76.5" lengthAdjust="spacing">1.3456</text>
<text x="596" y="97.8" font-size="23" fill="#131722" stroke="#131722" stroke-width="0.45" textLength="12.5" lengthAdjust="spacing">L</text>
<text x="609.5" y="97.8" font-size="23" fill="#f23645" stroke="#f23645" stroke-width="0.45" textLength="72" lengthAdjust="spacing">1.3414</text>
<text x="696" y="97.8" font-size="23" fill="#131722" stroke="#131722" stroke-width="0.45" textLength="17" lengthAdjust="spacing">C</text>
<text x="713" y="97.8" font-size="23" fill="#f23645" stroke="#f23645" stroke-width="0.45" textLength="76" lengthAdjust="spacing">1.3426</text>
<text x="804" y="97.8" font-size="23" fill="#f23645" stroke="#f23645" stroke-width="0.45" textLength="93.5" lengthAdjust="spacing">−0.0028</text>
<text x="907" y="97.8" font-size="23" fill="#f23645" stroke="#f23645" stroke-width="0.45" textLength="98.5" lengthAdjust="spacing">(−0.21%)</text>
<text x="36" y="131.6" font-size="23" fill="#131722" stroke="#131722" stroke-width="0.45" textLength="101" lengthAdjust="spacing">Vol · XRP</text>
<text x="152" y="131.6" font-size="23" fill="#ef5350" stroke="#ef5350" stroke-width="0.45" textLength="76" lengthAdjust="spacing">259.45</text>
<text x="233" y="131.6" font-size="23" fill="#ef5350" stroke="#ef5350" stroke-width="0.45" textLength="15" lengthAdjust="spacing">K</text>
<text x="36" y="165.5" font-size="23" fill="#131722" stroke="#131722" stroke-width="0.45" textLength="177.5" lengthAdjust="spacing">SMA (50, close)</text>
<text x="227" y="165.5" font-size="23" fill="#2962ff" stroke="#2962ff" stroke-width="0.45" textLength="75.5" lengthAdjust="spacing">1.3392</text>
<text x="36" y="1266" font-size="23" fill="#131722" stroke="#131722" stroke-width="0.45" textLength="159.5" lengthAdjust="spacing">RSI (14, close)</text>
<text x="211" y="1266" font-size="23" fill="#7e57c2" stroke="#7e57c2" stroke-width="0.45" textLength="60.5" lengthAdjust="spacing">49.15</text>
<text x="286" y="1266" font-size="23" fill="#fdd835" stroke="#fdd835" stroke-width="0.45" textLength="65" lengthAdjust="spacing">59.99</text>
<text x="2435.5" y="138.3" font-size="23" fill="#131722" stroke="#131722" stroke-width="0.45" textLength="80.5" lengthAdjust="spacing">1.3700</text>
<text x="2435.5" y="205.0" font-size="23" fill="#131722" stroke="#131722" stroke-width="0.45" textLength="80.5" lengthAdjust="spacing">1.3650</text>
<text x="2435.5" y="271.7" font-size="23" fill="#131722" stroke="#131722" stroke-width="0.45" textLength="80.5" lengthAdjust="spacing">1.3600</text>
<text x="2435.5" y="338.4" font-size="23" fill="#131722" stroke="#131722" stroke-width="0.45" textLength="80.5" lengthAdjust="spacing">1.3550</text>
<text x="2435.5" y="405.1" font-size="23" fill="#131722" stroke="#131722" stroke-width="0.45" textLength="80.5" lengthAdjust="spacing">1.3500</text>
<text x="2435.5" y="471.8" font-size="23" fill="#131722" stroke="#131722" stroke-width="0.45" textLength="80.5" lengthAdjust="spacing">1.3450</text>
<text x="2435.5" y="538.5" font-size="23" fill="#131722" stroke="#131722" stroke-width="0.45" textLength="80.5" lengthAdjust="spacing">1.3400</text>
<text x="2435.5" y="605.2" font-size="23" fill="#131722" stroke="#131722" stroke-width="0.45" textLength="80.5" lengthAdjust="spacing">1.3350</text>
<text x="2435.5" y="671.9" font-size="23" fill="#131722" stroke="#131722" stroke-width="0.45" textLength="80.5" lengthAdjust="spacing">1.3300</text>
<text x="2435.5" y="738.6" font-size="23" fill="#131722" stroke="#131722" stroke-width="0.45" textLength="80.5" lengthAdjust="spacing">1.3250</text>
<text x="2435.5" y="805.3" font-size="23" fill="#131722" stroke="#131722" stroke-width="0.45" textLength="80.5" lengthAdjust="spacing">1.3200</text>
<text x="2435.5" y="872.0" font-size="23" fill="#131722" stroke="#131722" stroke-width="0.45" textLength="80.5" lengthAdjust="spacing">1.3150</text>
<text x="2435.5" y="938.7" font-size="23" fill="#131722" stroke="#131722" stroke-width="0.45" textLength="80.5" lengthAdjust="spacing">1.3100</text>
<text x="2435.5" y="1005.4" font-size="23" fill="#131722" stroke="#131722" stroke-width="0.45" textLength="80.5" lengthAdjust="spacing">1.3050</text>
<text x="2435.5" y="1072.1" font-size="23" fill="#131722" stroke="#131722" stroke-width="0.45" textLength="80.5" lengthAdjust="spacing">1.3000</text>
<text x="2435.5" y="1138.8" font-size="23" fill="#131722" stroke="#131722" stroke-width="0.45" textLength="80.5" lengthAdjust="spacing">1.2950</text>
<text x="2435.5" y="1297.6" font-size="23" fill="#131722" stroke="#131722" stroke-width="0.45" textLength="65" lengthAdjust="spacing">70.00</text>
<text x="2435.5" y="1616.6" font-size="23" fill="#131722" stroke="#131722" stroke-width="0.45" textLength="65" lengthAdjust="spacing">40.00</text>
<text x="2435.5" y="1722.6" font-size="23" fill="#131722" stroke="#131722" stroke-width="0.45" textLength="65" lengthAdjust="spacing">30.00</text>
<text x="2435.5" y="1509.6" font-size="23" fill="#131722" stroke="#131722" stroke-width="0.45" textLength="65" lengthAdjust="spacing">50.00</text>
<rect x="2425.2" y="62" width="106.8" height="51.5" rx="8" ry="8" fill="#fff" stroke="#f0f0f1" stroke-width="2"/>
<text x="2442.5" y="96.7" font-size="23" fill="#131722" stroke="#131722" stroke-width="0.45" textLength="64" lengthAdjust="spacing">USDT</text>
<path d="M2416.5,478H2292Q2287,478 2287,483V507Q2287,512 2292,512H2416.5Z" fill="#f23645"/>
<text x="2297" y="504.8" font-size="23" fill="#fff" stroke="#fff" stroke-width="0.45" textLength="110.5" lengthAdjust="spacing">XRPUSDT</text>
<path d="M2418.5,478H2524.5Q2528.5,478 2528.5,482V536Q2528.5,540 2524.5,540H2418.5Z" fill="#f23645"/>
<text x="2435.5" y="504.8" font-size="23" fill="#fff" stroke="#fff" stroke-width="0.45" textLength="80.5" lengthAdjust="spacing">1.3426</text>
<text x="2435.5" y="532" font-size="23" fill="#fbd3d7" stroke="#fbd3d7" stroke-width="0.45" textLength="63.5" lengthAdjust="spacing">52:47</text>
<path d="M2418.5,540H2524.5Q2528.5,540 2528.5,544V569.7Q2528.5,573.7 2524.5,573.7H2418.5Z" fill="#2962ff"/>
<text x="2435.5" y="565.8" font-size="23" fill="#fff" stroke="#fff" stroke-width="0.45" textLength="80.5" lengthAdjust="spacing">1.3392</text>
<rect x="2418.5" y="1186.5" width="121.5" height="33.5" fill="#ef5350"/>
<text x="2435.5" y="1212" font-size="23" fill="#fff" stroke="#fff" stroke-width="0.45" textLength="80" lengthAdjust="spacing">259.45</text>
<text x="2520" y="1212" font-size="23" fill="#fff" stroke="#fff" stroke-width="0.45" textLength="15.5" lengthAdjust="spacing">K</text>
<path d="M2418.5,1378.5H2508Q2512,1378.5 2512,1382.5V1408Q2512,1412 2508,1412H2418.5Z" fill="#fdd835"/>
<text x="2435.5" y="1403.8" font-size="23" fill="#131722" stroke="#131722" stroke-width="0.45" textLength="65" lengthAdjust="spacing">59.99</text>
<path d="M2418.5,1494H2508Q2512,1494 2512,1498V1523.8Q2512,1527.8 2508,1527.8H2418.5Z" fill="#7e57c2"/>
<text x="2435.5" y="1519.5" font-size="23" fill="#fff" stroke="#fff" stroke-width="0.45" textLength="65" lengthAdjust="spacing">49.15</text>
<text x="19.4" y="1843" font-size="23" fill="#131722" stroke="#131722" stroke-width="0.45" textLength="65" lengthAdjust="spacing">12:00</text>
<text x="183.434" y="1843" font-size="23" fill="#131722" stroke="#131722" stroke-width="0.45" textLength="65" lengthAdjust="spacing">18:00</text>
<text x="365.96799999999996" y="1843" font-size="23" fill="#131722" stroke="#131722" stroke-width="0.45" textLength="27.5" lengthAdjust="spacing">28</text>
<text x="511.50199999999995" y="1843" font-size="23" fill="#131722" stroke="#131722" stroke-width="0.45" textLength="65" lengthAdjust="spacing">06:00</text>
<text x="675.536" y="1843" font-size="23" fill="#131722" stroke="#131722" stroke-width="0.45" textLength="65" lengthAdjust="spacing">12:00</text>
<text x="839.5699999999999" y="1843" font-size="23" fill="#131722" stroke="#131722" stroke-width="0.45" textLength="65" lengthAdjust="spacing">18:00</text>
<text x="1022.104" y="1843" font-size="23" fill="#131722" stroke="#131722" stroke-width="0.45" textLength="27.5" lengthAdjust="spacing">29</text>
<text x="1167.638" y="1843" font-size="23" fill="#131722" stroke="#131722" stroke-width="0.45" textLength="65" lengthAdjust="spacing">06:00</text>
<text x="1331.672" y="1843" font-size="23" fill="#131722" stroke="#131722" stroke-width="0.45" textLength="65" lengthAdjust="spacing">12:00</text>
<text x="1495.7060000000001" y="1843" font-size="23" fill="#131722" stroke="#131722" stroke-width="0.45" textLength="65" lengthAdjust="spacing">18:00</text>
<text x="1677.04" y="1843" font-size="23" fill="#131722" stroke="#131722" stroke-width="0.45" textLength="30.5" lengthAdjust="spacingAndGlyphs" font-weight="bold">30</text>
<text x="1823.774" y="1843" font-size="23" fill="#131722" stroke="#131722" stroke-width="0.45" textLength="65" lengthAdjust="spacing">06:00</text>
<text x="1987.808" y="1843" font-size="23" fill="#131722" stroke="#131722" stroke-width="0.45" textLength="65" lengthAdjust="spacing">12:00</text>
<text x="2151.842" y="1843" font-size="23" fill="#131722" stroke="#131722" stroke-width="0.45" textLength="65" lengthAdjust="spacing">18:00</text>
<text x="2334.3759999999997" y="1843" font-size="23" fill="#131722" stroke="#131722" stroke-width="0.45" textLength="27.5" lengthAdjust="spacing">31</text>
</g>
<g fill="#0f0f0f"><polygon points="24.05,1904.3 47.9,1904.3 47.9,1933.85 36.05,1933.85 36.05,1915.8 24.05,1915.8"/><circle cx="57.9" cy="1910.05" r="5.95"/><polygon points="69.95,1904.3 83.6,1904.3 71.9,1933.85 57.95,1933.85"/></g>
<text x="96.3" y="1933.85" font-size="41.2" font-weight="bold" fill="#0f0f0f">TradingView</text>
</svg></body></html>
